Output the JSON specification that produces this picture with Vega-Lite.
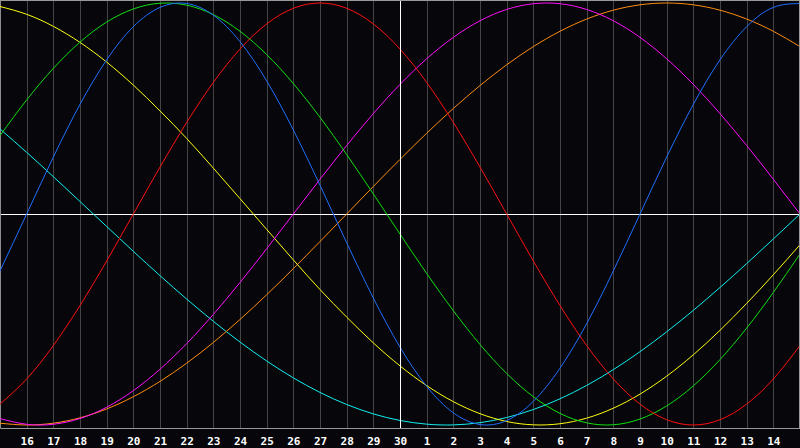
{
  "$schema": "https://vega.github.io/schema/vega-lite/v6.json",
  "width": 800,
  "height": 428,
  "padding": {"left": 0, "top": 0, "right": 0, "bottom": 20},
  "autosize": {"type": "none"},
  "background": "#07060b",
  "config": {
    "view": {"stroke": null},
    "axis": {"labelOverlap": false, "labelFlush": false, "labelBound": false}
  },
  "data": {"values": [
    {"t":0,"physical":-0.2698,"emotional":-0.9010,"intellectual":0.3717,"intuitive":-0.9694,"aesthetic":0.9834,"awareness":-0.9914,"spiritual":0.4031},
    {"t":1,"physical":0,"emotional":-0.7818,"intellectual":0.5406,"intuitive":-0.9966,"aesthetic":0.9464,"awareness":-1,"spiritual":0.2921},
    {"t":2,"physical":0.2698,"emotional":-0.6235,"intellectual":0.6901,"intuitive":-0.9966,"aesthetic":0.8893,"awareness":-0.9914,"spiritual":0.1769},
    {"t":3,"physical":0.5196,"emotional":-0.4339,"intellectual":0.8146,"intuitive":-0.9694,"aesthetic":0.8133,"awareness":-0.9659,"spiritual":0.0592},
    {"t":4,"physical":0.7308,"emotional":-0.2225,"intellectual":0.9096,"intuitive":-0.9158,"aesthetic":0.7199,"awareness":-0.9239,"spiritual":-0.0592},
    {"t":5,"physical":0.8879,"emotional":0,"intellectual":0.9718,"intuitive":-0.8372,"aesthetic":0.6109,"awareness":-0.8660,"spiritual":-0.1769},
    {"t":6,"physical":0.9791,"emotional":0.2225,"intellectual":0.9989,"intuitive":-0.7357,"aesthetic":0.4887,"awareness":-0.7934,"spiritual":-0.2921},
    {"t":7,"physical":0.9977,"emotional":0.4339,"intellectual":0.9898,"intuitive":-0.6142,"aesthetic":0.3580,"awareness":-0.7071,"spiritual":-0.4031},
    {"t":8,"physical":0.9423,"emotional":0.6235,"intellectual":0.9450,"intuitive":-0.4759,"aesthetic":0.2175,"awareness":-0.6088,"spiritual":-0.5085},
    {"t":9,"physical":0.8170,"emotional":0.7818,"intellectual":0.8660,"intuitive":-0.3247,"aesthetic":0.0730,"awareness":-0.5,"spiritual":-0.6068},
    {"t":10,"physical":0.6311,"emotional":0.9010,"intellectual":0.7557,"intuitive":-0.1646,"aesthetic":-0.0730,"awareness":-0.3827,"spiritual":-0.6966},
    {"t":11,"physical":0.3984,"emotional":0.9749,"intellectual":0.6182,"intuitive":0,"aesthetic":-0.2175,"awareness":-0.2588,"spiritual":-0.7767},
    {"t":12,"physical":0.1362,"emotional":1,"intellectual":0.4582,"intuitive":0.1646,"aesthetic":-0.3580,"awareness":-0.1305,"spiritual":-0.8457},
    {"t":13,"physical":-0.1362,"emotional":0.9749,"intellectual":0.2817,"intuitive":0.3247,"aesthetic":-0.4887,"awareness":0,"spiritual":-0.9028},
    {"t":14,"physical":-0.3984,"emotional":0.9010,"intellectual":0.0951,"intuitive":0.4759,"aesthetic":-0.6109,"awareness":0.1305,"spiritual":-0.9474},
    {"t":15,"physical":-0.6311,"emotional":0.7818,"intellectual":-0.0951,"intuitive":0.6142,"aesthetic":-0.7199,"awareness":0.2588,"spiritual":-0.9785},
    {"t":16,"physical":-0.8170,"emotional":0.6235,"intellectual":-0.2817,"intuitive":0.7357,"aesthetic":-0.8133,"awareness":0.3827,"spiritual":-0.9960},
    {"t":17,"physical":-0.9423,"emotional":0.4339,"intellectual":-0.4582,"intuitive":0.8372,"aesthetic":-0.8893,"awareness":0.5,"spiritual":-0.9996},
    {"t":18,"physical":-0.9977,"emotional":0.2225,"intellectual":-0.6182,"intuitive":0.9158,"aesthetic":-0.9464,"awareness":0.6088,"spiritual":-0.9890},
    {"t":19,"physical":-0.9791,"emotional":0,"intellectual":-0.7557,"intuitive":0.9694,"aesthetic":-0.9834,"awareness":0.7071,"spiritual":-0.9646},
    {"t":20,"physical":-0.8879,"emotional":-0.2225,"intellectual":-0.8660,"intuitive":0.9966,"aesthetic":-0.9993,"awareness":0.7934,"spiritual":-0.9267},
    {"t":21,"physical":-0.7308,"emotional":-0.4339,"intellectual":-0.9450,"intuitive":0.9966,"aesthetic":-0.9940,"awareness":0.8660,"spiritual":-0.8758},
    {"t":22,"physical":-0.5196,"emotional":-0.6235,"intellectual":-0.9898,"intuitive":0.9694,"aesthetic":-0.9675,"awareness":0.9239,"spiritual":-0.8125},
    {"t":23,"physical":-0.2698,"emotional":-0.7818,"intellectual":-0.9989,"intuitive":0.9158,"aesthetic":-0.9204,"awareness":0.9659,"spiritual":-0.7376},
    {"t":24,"physical":0,"emotional":-0.9010,"intellectual":-0.9718,"intuitive":0.8372,"aesthetic":-0.8536,"awareness":0.9914,"spiritual":-0.6525},
    {"t":25,"physical":0.2698,"emotional":-0.9749,"intellectual":-0.9096,"intuitive":0.7357,"aesthetic":-0.7686,"awareness":1,"spiritual":-0.5584},
    {"t":26,"physical":0.5196,"emotional":-1,"intellectual":-0.8146,"intuitive":0.6142,"aesthetic":-0.6672,"awareness":0.9914,"spiritual":-0.4566},
    {"t":27,"physical":0.7308,"emotional":-0.9749,"intellectual":-0.6901,"intuitive":0.4759,"aesthetic":-0.5513,"awareness":0.9659,"spiritual":-0.3482},
    {"t":28,"physical":0.8879,"emotional":-0.9010,"intellectual":-0.5406,"intuitive":0.3247,"aesthetic":-0.4236,"awareness":0.9239,"spiritual":-0.2351},
    {"t":29,"physical":0.9791,"emotional":-0.7818,"intellectual":-0.3717,"intuitive":0.1646,"aesthetic":-0.2879,"awareness":0.8660,"spiritual":-0.1183},
    {"t":30,"physical":0.9977,"emotional":-0.6235,"intellectual":-0.1893,"intuitive":0,"aesthetic":-0.1455,"awareness":0.7934,"spiritual":0}
  ]},
  "layer": [
    {
      "transform": [{"fold": ["spiritual","awareness","aesthetic","intuitive","intellectual","emotional","physical"], "as": ["cycle","value"]}],
      "mark": {"type": "line", "interpolate": "natural", "strokeWidth": 1},
      "encoding": {
        "x": {"field": "t", "type": "quantitative",
              "scale": {"domain": [0, 30], "nice": false, "zero": false},
              "axis": {"values": [1,2,3,4,5,6,7,8,9,10,11,12,13,14,15,16,17,18,19,20,21,22,23,24,25,26,27,28,29],
                       "labelExpr": "datum.value <= 15 ? '' + (datum.value + 15) : '' + (datum.value - 15)",
                       "title": null, "grid": true, "gridColor": "#444444", "gridOpacity": 1,
                       "ticks": false, "domain": true, "domainColor": "#999999",
                       "labelFont": "DejaVu Sans Mono", "labelFontWeight": "bold", "labelFontSize": 11,
                       "labelColor": "#ffffff", "labelPadding": 7, "labelFlush": false, "labelOverlap": false}},
        "y": {"field": "value", "type": "quantitative",
              "scale": {"domain": [-1.0142, 1.0142], "nice": false, "zero": false},
              "axis": {"values": [0], "labels": false, "ticks": false, "title": null,
                       "domain": true, "domainColor": "#8c8c8c",
                       "grid": true, "gridColor": "#ffffff", "gridOpacity": 1}},
        "color": {"field": "cycle", "type": "nominal", "legend": null,
                  "scale": {"domain": ["physical","emotional","intellectual","intuitive","aesthetic","awareness","spiritual"],
                            "range": ["#1f6fff","#ff1010","#10e010","#ff10ff","#ffff10","#ff8c10","#10f0f0"]}},
        "detail": {"field": "cycle"}
      }
    },
    {
      "mark": {"type": "rule", "color": "#ffffff", "strokeWidth": 1, "xOffset": 0.5},
      "encoding": {"x": {"datum": 15, "type": "quantitative",
              "axis": {"values": [1,2,3,4,5,6,7,8,9,10,11,12,13,14,15,16,17,18,19,20,21,22,23,24,25,26,27,28,29],
                       "labelExpr": "datum.value <= 15 ? '' + (datum.value + 15) : '' + (datum.value - 15)",
                       "title": null, "grid": true, "gridColor": "#444444", "gridOpacity": 1,
                       "ticks": false, "domain": true, "domainColor": "#999999",
                       "labelFont": "DejaVu Sans Mono", "labelFontWeight": "bold", "labelFontSize": 11,
                       "labelColor": "#ffffff", "labelPadding": 7, "labelFlush": false, "labelOverlap": false}}}
    },
    {
      "mark": {"type": "rule", "color": "#9a9a9a", "strokeWidth": 1, "xOffset": -0.5},
      "encoding": {"x": {"datum": 30, "type": "quantitative",
              "axis": {"values": [1,2,3,4,5,6,7,8,9,10,11,12,13,14,15,16,17,18,19,20,21,22,23,24,25,26,27,28,29],
                       "labelExpr": "datum.value <= 15 ? '' + (datum.value + 15) : '' + (datum.value - 15)",
                       "title": null, "grid": true, "gridColor": "#444444", "gridOpacity": 1,
                       "ticks": false, "domain": true, "domainColor": "#999999",
                       "labelFont": "DejaVu Sans Mono", "labelFontWeight": "bold", "labelFontSize": 11,
                       "labelColor": "#ffffff", "labelPadding": 7, "labelFlush": false, "labelOverlap": false}}}
    },
    {
      "mark": {"type": "rule", "color": "#9a9a9a", "strokeWidth": 1, "yOffset": 0.5},
      "encoding": {"y": {"datum": 1.0142, "type": "quantitative",
              "axis": {"values": [0], "labels": false, "ticks": false, "title": null,
                       "domain": true, "domainColor": "#8c8c8c",
                       "grid": true, "gridColor": "#ffffff", "gridOpacity": 1}}}
    }
  ]
}
